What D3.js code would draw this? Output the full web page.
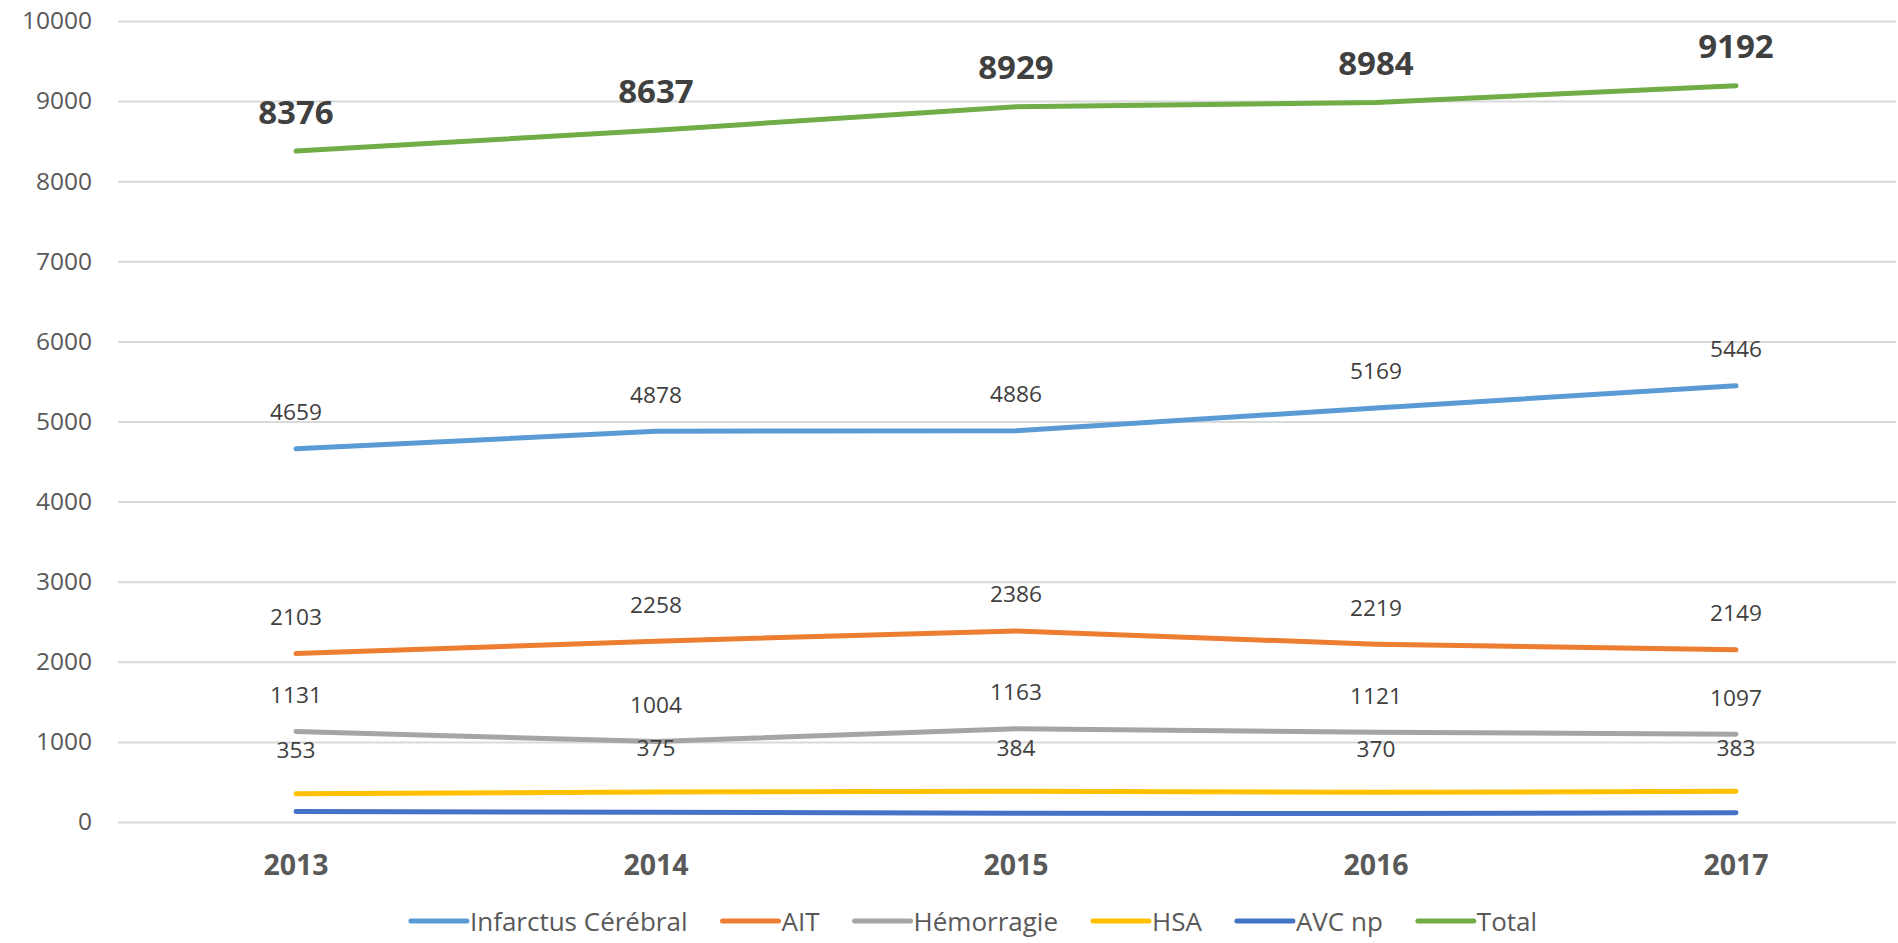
<!DOCTYPE html>
<html>
<head>
<meta charset="utf-8">
<script src="https://cdn.jsdelivr.net/npm/d3@7"></script>
<style>
  body { margin: 0; background: #fff; }
  svg text { font-family: "Open Sans", sans-serif; }
</style>
</head>
<body>
<div id="chart"></div>
<script>
/* data */
const years = ["2013", "2014", "2015", "2016", "2017"];
const infarctus = [4659, 4878, 4886, 5169, 5446];
const ait = [2103, 2258, 2386, 2219, 2149];
const hemorragie = [1131, 1004, 1163, 1121, 1097];
const hsa = [353, 375, 384, 370, 383];
const avcNp = [130, 122, 110, 105, 117];
const total = [8376, 8637, 8929, 8984, 9192];
const seriesNames = ["Infarctus Cérébral", "AIT", "Hémorragie", "HSA", "AVC np", "Total"];
const yTicks = [0, 1000, 2000, 3000, 4000, 5000, 6000, 7000, 8000, 9000, 10000];

const w = 1898;
const h = 943;

const series = [
  {name: seriesNames[0], values: infarctus, color: "#5B9BD5", label: true},
  {name: seriesNames[1], values: ait, color: "#ED7D31", label: true},
  {name: seriesNames[2], values: hemorragie, color: "#A5A5A5", label: true},
  {name: seriesNames[3], values: hsa, color: "#FFC000", label: true, off: 44},
  {name: seriesNames[4], values: avcNp, color: "#4472C4", label: false},
  {name: seriesNames[5], values: total, color: "#70AD47", label: true, bold: true, off: 40}
];

const xScale = d3.scalePoint()
  .domain(years)
  .range([296, 1736]);

const yScale = d3.scaleLinear()
  .domain([0, 10000])
  .range([822, 21]);

const svg = d3.select("#chart")
  .append("svg")
  .attr("width", w)
  .attr("height", h);

// gridlines + y labels
const yAxis = d3.axisLeft(yScale)
  .tickValues(yTicks)
  .tickSize(-(1896 - 118))
  .tickPadding(26)
  .tickFormat(d3.format("d"));

const gy = svg.append("g")
  .attr("transform", "translate(118,0)")
  .call(yAxis);
gy.select(".domain").remove();
gy.selectAll("line").attr("stroke", "#d9d9d9").attr("stroke-width", 2);
gy.selectAll("text")
  .attr("fill", "#595959")
  .style("font-size", "24.5px");

// x labels
svg.append("g")
  .selectAll("text")
  .data(years)
  .enter()
  .append("text")
  .attr("x", d => xScale(d))
  .attr("y", 864)
  .attr("text-anchor", "middle")
  .attr("dominant-baseline", "central")
  .attr("fill", "#595959")
  .style("font-size", "28.5px")
  .style("font-weight", "bold")
  .text(d => d);

const line = d3.line()
  .x((d, i) => xScale(years[i]))
  .y(d => yScale(d));

// lines
svg.append("g")
  .selectAll("path")
  .data(series)
  .enter()
  .append("path")
  .attr("d", d => line(d.values))
  .attr("fill", "none")
  .attr("stroke", d => d.color)
  .attr("stroke-width", 5)
  .attr("stroke-linecap", "round")
  .attr("stroke-linejoin", "round");

// data labels
series.filter(s => s.label).forEach(s => {
  svg.append("g")
    .selectAll("text")
    .data(s.values)
    .enter()
    .append("text")
    .attr("x", (d, i) => xScale(years[i]))
    .attr("y", d => yScale(d) - (s.off || 37))
    .attr("text-anchor", "middle")
    .attr("dominant-baseline", "central")
    .attr("fill", "#404040")
    .style("font-size", s.bold ? "33px" : "22.7px")
    .style("font-weight", s.bold ? "bold" : "normal")
    .text(d => d);
});

// legend
const legend = svg.append("g");
const items = legend.selectAll("g")
  .data(series)
  .enter()
  .append("g");
items.append("line")
  .attr("x1", 0).attr("x2", 56)
  .attr("y1", 0).attr("y2", 0)
  .attr("stroke", d => d.color)
  .attr("stroke-width", 5)
  .attr("stroke-linecap", "round");
items.append("text")
  .attr("x", 59)
  .attr("y", 0)
  .attr("dominant-baseline", "central")
  .attr("fill", "#595959")
  .style("font-size", "26px")
  .text(d => d.name);

let cx = 0;
const pos = [];
items.each(function() {
  const tw = d3.select(this).select("text").node().getComputedTextLength();
  pos.push(cx);
  cx += 59 + tw + 35;
});
const legW = cx - 35;
const startX = 974 - legW / 2;
items.attr("transform", (d, i) => "translate(" + (startX + pos[i]) + ",921)");
</script>
</body>
</html>
